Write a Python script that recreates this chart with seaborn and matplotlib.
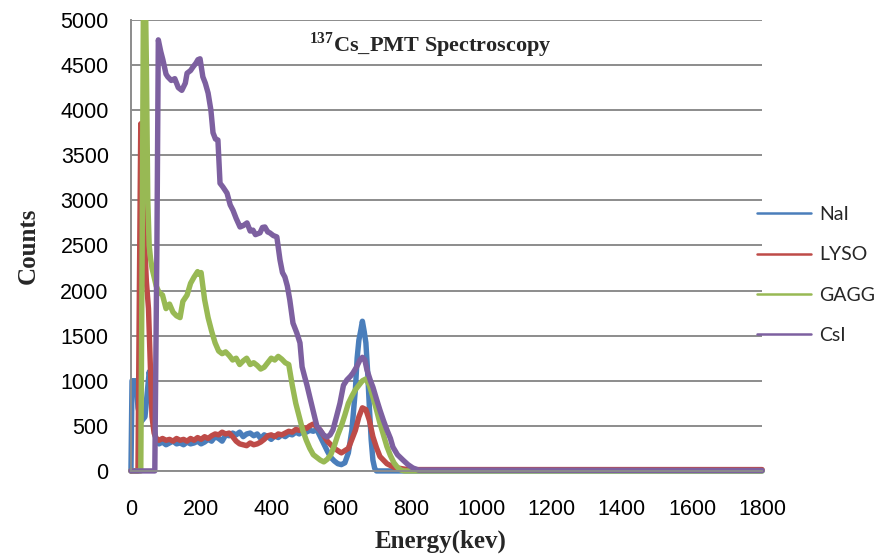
import pandas as pd
import numpy as np
import matplotlib
matplotlib.use('Agg')
import matplotlib.pyplot as plt
import seaborn as sns
from matplotlib.lines import Line2D
from matplotlib.patches import Rectangle

# ---- data (energy in keV, counts) ----
nai_e = [0, 3, 15, 20, 30, 40, 52, 58, 65, 72, 80, 90, 100, 110, 120, 130, 140, 150, 160,
         170, 180, 190, 200, 210, 220, 230, 240, 250, 260, 270, 280, 290, 300, 310, 320,
         330, 340, 350, 360, 370, 380, 390, 400, 410, 420, 430, 440, 450, 460, 470, 480,
         490, 500, 510, 520, 530, 540, 550, 560, 570, 580, 590, 600, 610, 620, 630, 640,
         645, 650, 655, 660, 665, 670, 675, 680, 685, 690, 695, 700, 710, 750, 800, 1800]
nai_c = [0, 1000, 1000, 700, 550, 600, 1100, 950, 500, 330, 300, 320, 290, 310, 330, 300,
         310, 290, 320, 300, 310, 330, 300, 320, 350, 330, 380, 360, 330, 400, 390, 420,
         400, 430, 380, 410, 420, 390, 410, 360, 400, 380, 350, 390, 370, 400, 380, 410,
         400, 430, 410, 440, 430, 450, 440, 460, 380, 300, 220, 150, 110, 80, 70, 90, 200,
         450, 900, 1250, 1450, 1550, 1660, 1550, 1420, 1100, 700, 350, 120, 30, 0, 0, 0,
         0, 0]

lyso_e = [0, 20, 24, 28, 32, 38, 44, 50, 55, 60, 66, 72, 80, 90, 100, 110, 120, 130, 140,
          150, 160, 170, 180, 190, 200, 210, 220, 230, 240, 250, 260, 270, 280, 290, 300,
          310, 320, 330, 340, 350, 360, 370, 380, 390, 400, 410, 420, 430, 440, 450, 460,
          470, 480, 490, 500, 510, 520, 530, 540, 560, 580, 600, 620, 640, 650, 660, 670,
          680, 690, 700, 710, 730, 750, 780, 800, 1800]
lyso_c = [0, 0, 2000, 3850, 3200, 2600, 2100, 1800, 1200, 600, 420, 360, 340, 360, 340,
          350, 330, 360, 340, 350, 330, 360, 340, 370, 350, 380, 360, 390, 410, 400, 430,
          410, 420, 380, 330, 300, 290, 280, 310, 290, 300, 320, 350, 390, 400, 380, 410,
          400, 420, 440, 430, 460, 450, 480, 470, 500, 520, 490, 450, 330, 250, 200, 250,
          450, 600, 700, 680, 560, 380, 260, 160, 80, 40, 20, 15, 15]

gagg_e = [0, 28, 32, 36, 40, 44, 48, 52, 56, 60, 66, 72, 80, 90, 100, 110, 120, 130, 140,
          148, 160, 170, 180, 190, 195, 200, 205, 210, 220, 230, 240, 250, 260, 270, 280,
          290, 300, 310, 320, 330, 340, 350, 360, 370, 380, 390, 400, 410, 420, 430, 440,
          450, 460, 470, 480, 490, 500, 510, 520, 530, 540, 550, 560, 570, 580, 590, 600,
          610, 620, 630, 640, 650, 660, 670, 680, 690, 700, 710, 720, 730, 740, 750, 760,
          770, 780, 800, 1800]
gagg_c = [0, 0, 2500, 5600, 5600, 4500, 3000, 2500, 2350, 2250, 2150, 2050, 1980, 1950,
          1800, 1850, 1760, 1720, 1700, 1880, 1950, 2080, 2150, 2210, 2180, 2200, 2050,
          1900, 1700, 1550, 1420, 1330, 1300, 1320, 1280, 1230, 1250, 1180, 1220, 1250,
          1180, 1200, 1170, 1130, 1150, 1200, 1250, 1230, 1270, 1240, 1200, 1180, 950, 750,
          600, 450, 340, 250, 180, 150, 120, 100, 130, 180, 280, 400, 500, 620, 750, 830,
          900, 950, 1000, 1020, 950, 820, 680, 530, 400, 270, 170, 90, 40, 10, 0, 0, 0]

csi_e = [0, 68, 74, 78, 85, 91, 100, 105, 115, 125, 135, 145, 155, 160, 170, 177, 185, 191,
         197, 205, 212, 220, 228, 234, 241, 248, 254, 262, 274, 283, 291, 300, 311, 320,
         331, 340, 348, 355, 368, 375, 382, 390, 396, 406, 416, 425, 432, 439, 446, 453,
         462, 473, 482, 488, 495, 502, 510, 519, 530, 539, 549, 559, 568, 576, 586, 596,
         606, 616, 626, 633, 643, 653, 660, 667, 673, 683, 690, 700, 710, 720, 730, 740,
         747, 760, 776, 790, 804, 820, 1800]
csi_c = [0, 0, 2500, 4780, 4650, 4560, 4400, 4370, 4330, 4350, 4250, 4220, 4300, 4410,
         4440, 4480, 4520, 4560, 4570, 4370, 4300, 4190, 4000, 3750, 3680, 3670, 3190,
         3150, 3080, 2950, 2890, 2800, 2705, 2720, 2750, 2660, 2670, 2620, 2640, 2700,
         2705, 2650, 2640, 2610, 2595, 2340, 2200, 2150, 2050, 1895, 1640, 1530, 1420,
         1155, 1050, 950, 820, 675, 500, 455, 400, 375, 400, 455, 600, 750, 950, 1010,
         1050, 1085, 1150, 1230, 1260, 1230, 1120, 1000, 930, 800, 675, 560, 455, 360,
         265, 180, 120, 70, 33, 10, 5]

names = ['NaI', 'LYSO', 'GAGG', 'CsI']
colors = ['#4A7EBB', '#BE4B48', '#98B954', '#7D60A0']
x_ticks = list(range(0, 1801, 200))
y_ticks = list(range(0, 5001, 500))

series = [(nai_e, nai_c), (lyso_e, lyso_c), (gagg_e, gagg_c), (csi_e, csi_c)]
df = pd.concat([pd.DataFrame({'energy': e, 'counts': c, 'crystal': n})
                for n, (e, c) in zip(names, series)], ignore_index=True)
palette = dict(zip(names, colors))

sns.set_style('white')
plt.rcParams['font.family'] = ['Liberation Sans', 'DejaVu Sans']
plt.rcParams['mathtext.fontset'] = 'custom'
plt.rcParams['mathtext.rm'] = 'Liberation Serif:bold'
plt.rcParams['mathtext.bf'] = 'Liberation Serif:bold'

fig, ax = plt.subplots(figsize=(8.76, 5.56), dpi=100)
fig.subplots_adjust(left=0.1495, right=0.87, bottom=0.153, top=0.964)

sns.lineplot(data=df, x='energy', y='counts', hue='crystal', hue_order=names,
             palette=palette, lw=3.9, legend=False, sort=False, estimator=None, ax=ax)

# clip the top at 5000 like Excel, but keep the zero line fully visible
clip = Rectangle((-0.02, -0.05), 1.04, 1.05, transform=ax.transAxes, facecolor='none')
for ln in ax.lines:
    ln.set_clip_path(clip)
    ln.set_solid_joinstyle('round')

grid_col = '#8c8c8c'
ax.set_xlim(0, 1800)
ax.set_ylim(0, 5000)
ax.set_xticks(x_ticks)
ax.set_yticks(y_ticks)
ax.yaxis.grid(True, color=grid_col, lw=1.4)
ax.xaxis.grid(False)
ax.set_axisbelow(True)
for s in ['top', 'right']:
    ax.spines[s].set_visible(False)
for s in ['left', 'bottom']:
    ax.spines[s].set_color(grid_col)
    ax.spines[s].set_linewidth(1.4)
ax.tick_params(axis='both', direction='out', length=5, width=1.4, color=grid_col,
               labelsize=15.5, labelcolor='black')
ax.tick_params(axis='x', pad=15)
ax.tick_params(axis='y', pad=11)

ax.set_xlabel('Energy(kev)', fontfamily='Liberation Serif', fontweight='bold', fontsize=18)
ax.set_ylabel('Counts', fontfamily='Liberation Serif', fontweight='bold', fontsize=18)
ax.xaxis.set_label_coords(0.49, -0.13)
ax.yaxis.set_label_coords(-0.145, 0.5)

fig.text(430 / 876, 1 - 45 / 556, r'$^{137}$Cs_PMT Spectroscopy', ha='center', va='center',
         fontfamily='Liberation Serif', fontweight='bold', fontsize=16)

handles = [Line2D([0], [0], color=c, lw=1.8) for c in colors]
fig.legend(handles, names, loc='upper left', bbox_to_anchor=(757 / 876, 1 - 206 / 556),
           frameon=False, borderpad=0, borderaxespad=0, handlelength=2.8,
           handletextpad=0.4, labelspacing=1.2, prop={'family': 'Lato', 'size': 14})

fig.savefig('out.png', dpi=100)
